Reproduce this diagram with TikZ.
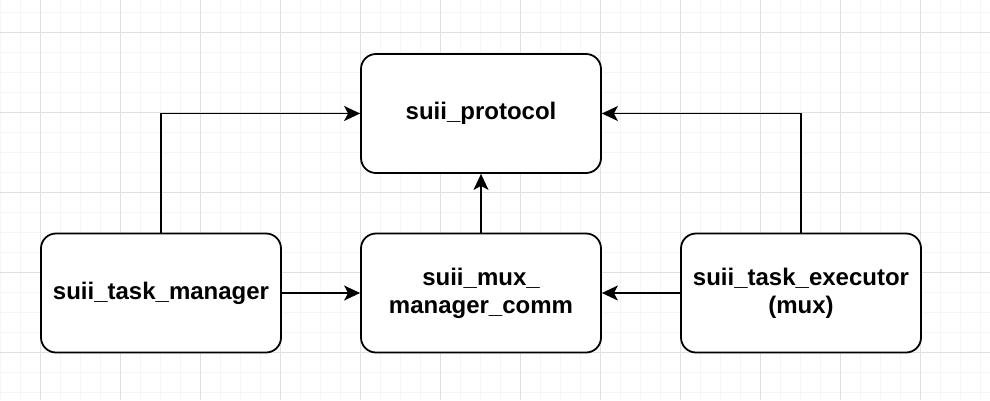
\documentclass[tikz,border=0pt]{standalone}
\usepackage{fontspec}
\setmainfont{Liberation Sans}
\usetikzlibrary{arrows.meta, positioning}

\tikzset{
  module/.style={draw, line width=1.8pt, rounded corners=15pt, fill=white,
    minimum width=240pt, minimum height=119pt, align=center,
    font=\fontsize{24}{28}\selectfont\bfseries},
  link/.style={line width=1.6pt, -{Stealth[length=16pt, width=15pt, inset=4pt]}}
}

\begin{document}
\begin{tikzpicture}[x=1pt, y=-1pt]
% Page is 990 by 400
\useasboundingbox (0,0) rectangle (990,400);
\fill[white] (0,0) rectangle (990,400);
% Light grid, minor and major lines
\foreach \x in {0,20,...,980}
  \draw[line width=1pt, black!4] (\x,0) -- (\x,400);
\foreach \y in {12,32,...,392}
  \draw[line width=1pt, black!4] (0,\y) -- (990,\y);
\foreach \x in {40,120,...,920}
  \draw[line width=1pt, black!12] (\x,0) -- (\x,400);
\foreach \y in {32,112,...,352}
  \draw[line width=1pt, black!12] (0,\y) -- (990,\y);
% The four modules
\node[module] (protocol) at (481,113.5) {suii\_protocol};
\node[module] (manager) at (161,293) {suii\_task\_manager};
\node[module] (comm) at (481,293) {suii\_mux\_\\manager\_comm};
\node[module] (executor) at (801,293) {suii\_task\_executor\\(mux)};
% Connectors
\draw[link] (manager.north) |- (protocol.west);
\draw[link] (executor.north) |- (protocol.east);
\draw[link] (comm.north) -- (protocol.south);
\draw[link] (manager.east) -- (comm.west);
\draw[link] (executor.west) -- (comm.east);
\end{tikzpicture}
\end{document}
